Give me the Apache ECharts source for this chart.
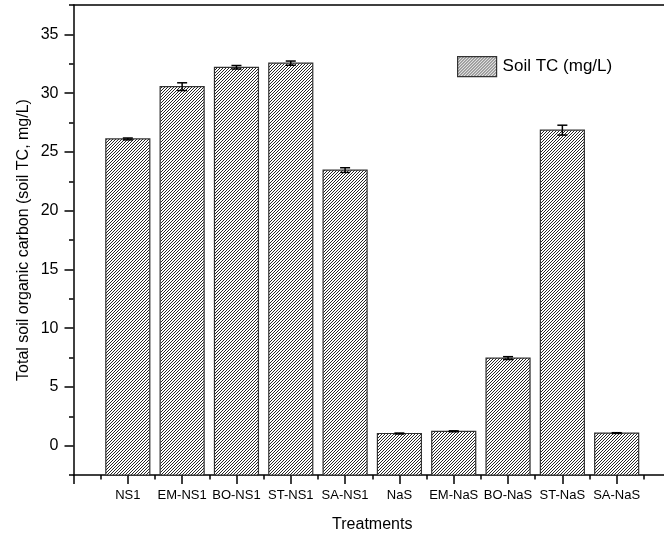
<!DOCTYPE html>
<html>
<head>
<meta charset="utf-8">
<title>Soil TC by treatment</title>
<script src="https://cdn.jsdelivr.net/npm/echarts@6/dist/echarts.min.js"></script>
<style>
  html, body { margin: 0; padding: 0; background: #fff; }
  #chart { width: 664px; height: 539px; }
</style>
</head>
<body>
<div id="chart"></div>
<script>
// Treatments along the x axis
const categories = ['NS1', 'EM-NS1', 'BO-NS1', 'ST-NS1', 'SA-NS1', 'NaS', 'EM-NaS', 'BO-NaS', 'ST-NaS', 'SA-NaS'];
// Total soil organic carbon, mg/L
const soilTC = [26.1, 30.55, 32.2, 32.55, 23.45, 1.03, 1.22, 7.45, 26.85, 1.07];
// Standard error for each treatment
const soilTCErr = [0.08, 0.33, 0.15, 0.18, 0.2, 0.04, 0.04, 0.12, 0.42, 0.03];

const seriesName = 'Soil TC (mg/L)';
const FONT = "'Liberation Sans', Arial, sans-serif";
const Y_MIN = -2.5, Y_MAX = 37.5;
const X_MIN = 0, X_MAX = 11;

// Diagonal hatch fill ("/" lines)
function makeHatch() {
  const c = document.createElement('canvas');
  c.width = 3; c.height = 3;
  const g = c.getContext('2d');
  g.fillStyle = '#fff';
  g.fillRect(0, 0, 3, 3);
  g.fillStyle = '#262626';
  g.fillRect(0, 2, 1, 1);
  g.fillRect(1, 1, 1, 1);
  g.fillRect(2, 0, 1, 1);
  return c;
}
const hatch = { image: makeHatch(), repeat: 'repeat' };

const barData = categories.map((c, i) => [i + 1, soilTC[i], soilTCErr[i]]);

const PX_PER_UNIT = 470 / (Y_MAX - Y_MIN);
const plotLeft = 73.5, plotTop = 5, plotWidth = 597.5, plotHeight = 470;

const axisLineStyle = { color: '#000', width: 1.5 };

const chart = echarts.init(document.getElementById('chart'), null, { renderer: 'canvas' });

chart.setOption({
  animation: false,
  backgroundColor: '#fff',
  textStyle: { fontFamily: FONT, color: '#000' },
  grid: [
    { left: plotLeft, top: plotTop, width: plotWidth, height: plotHeight, outerBoundsMode: 'none', containLabel: false },
    // labelled major ticks, 0 to 35
    {
      left: plotLeft, top: plotTop + (Y_MAX - 35) * PX_PER_UNIT, width: plotWidth, height: 35 * PX_PER_UNIT,
      outerBoundsMode: 'none', containLabel: false
    }
  ],
  legend: {
    data: [seriesName],
    left: 452, top: 51,
    itemWidth: 39, itemHeight: 20, itemGap: 10,
    icon: 'rect',
    itemStyle: { color: hatch, borderColor: '#333', borderWidth: 1.2 },
    textStyle: { fontFamily: FONT, fontSize: 17, color: '#000', padding: [0, 0, 0, 1] }
  },
  xAxis: [
    {
      gridIndex: 0, type: 'value', position: 'bottom',
      min: X_MIN, max: X_MAX, interval: 1,
      axisLine: { show: true, onZero: false, lineStyle: axisLineStyle },
      axisTick: { show: true, length: 9, lineStyle: axisLineStyle },
      minorTick: { show: true, splitNumber: 2, length: 4.5, lineStyle: axisLineStyle },
      axisLabel: {
        fontFamily: FONT, fontSize: 13, color: '#000', margin: 14,
        formatter: v => categories[Math.round(v) - 1] || ''
      },
      splitLine: { show: false }, minorSplitLine: { show: false },
      name: 'Treatments', nameLocation: 'middle', nameGap: 42,
      nameTextStyle: { fontFamily: FONT, fontSize: 16, color: '#000' }
    },
    {
      gridIndex: 0, type: 'value', position: 'top',
      min: X_MIN, max: X_MAX,
      axisLine: { show: true, onZero: false, lineStyle: axisLineStyle },
      axisTick: { show: false }, axisLabel: { show: false }, splitLine: { show: false }
    },
    { gridIndex: 1, type: 'value', min: X_MIN, max: X_MAX, show: false }
  ],
  yAxis: [
    {
      gridIndex: 0, type: 'value', position: 'left',
      min: Y_MIN, max: Y_MAX, interval: 2.5,
      axisLine: { show: true, onZero: false, lineStyle: axisLineStyle },
      axisTick: { show: true, length: 4.5, lineStyle: axisLineStyle },
      axisLabel: { show: false },
      splitLine: { show: false },
      name: 'Total soil organic carbon (soil TC, mg/L)',
      nameLocation: 'middle', nameGap: 42,
      nameTextStyle: { fontFamily: FONT, fontSize: 16, color: '#000' }
    },
    {
      gridIndex: 0, type: 'value', position: 'right',
      min: Y_MIN, max: Y_MAX,
      axisLine: { show: true, onZero: false, lineStyle: axisLineStyle },
      axisTick: { show: false }, axisLabel: { show: false }, splitLine: { show: false }
    },
    {
      gridIndex: 1, type: 'value', position: 'left',
      min: 0, max: 35, interval: 5,
      axisLine: { show: false },
      axisTick: { show: true, length: 9, lineStyle: axisLineStyle },
      axisLabel: { fontFamily: FONT, fontSize: 16, color: '#000', margin: 15 },
      splitLine: { show: false }
    }
  ],
  series: [
    {
      name: seriesName,
      type: 'custom',
      xAxisIndex: 0, yAxisIndex: 0,
      itemStyle: { color: hatch, borderColor: '#333', borderWidth: 1.2 },
      encode: { x: 0, y: 1 },
      data: barData,
      renderItem: function (params, api) {
        const x = api.value(0), v = api.value(1), e = api.value(2);
        const top = api.coord([x, v]);
        const base = api.coord([x, Y_MIN]);
        const halfW = api.size([0.81, 0])[0] / 2;
        const hi = api.coord([x, v + e]);
        const lo = api.coord([x, v - e]);
        const capHalf = 5;
        const errStyle = { stroke: '#000', lineWidth: 1.5 };
        return {
          type: 'group',
          children: [
            {
              type: 'rect',
              shape: { x: top[0] - halfW, y: top[1], width: halfW * 2, height: base[1] - top[1] },
              style: { fill: hatch, stroke: '#333', lineWidth: 1.2 }
            },
            { type: 'line', shape: { x1: top[0], y1: hi[1], x2: top[0], y2: lo[1] }, style: errStyle },
            { type: 'line', shape: { x1: top[0] - capHalf, y1: hi[1], x2: top[0] + capHalf, y2: hi[1] }, style: errStyle },
            { type: 'line', shape: { x1: top[0] - capHalf, y1: lo[1], x2: top[0] + capHalf, y2: lo[1] }, style: errStyle }
          ]
        };
      }
    }
  ]
});
</script>
</body>
</html>
